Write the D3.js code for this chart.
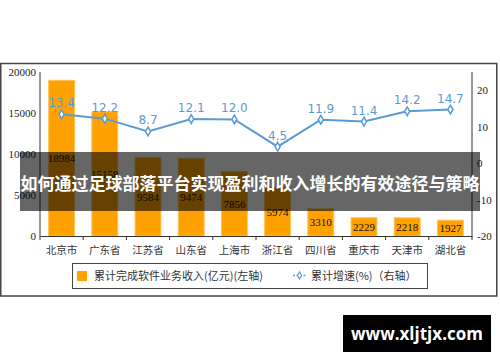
<!DOCTYPE html>
<html>
<head>
<meta charset="utf-8">
<script src="https://cdn.jsdelivr.net/npm/d3@7"></script>
<style>
  body { margin: 0; background: #fff; }
  svg { display: block; }
</style>
</head>
<body>
<svg id="chart" width="500" height="362"></svg>
<script>
var regions = ["北京市", "广东省", "江苏省", "山东省", "上海市", "浙江省", "四川省", "重庆市", "天津市", "湖北省"];
var income = [18984, 15158, 9584, 9474, 7856, 5974, 3310, 2229, 2218, 1927];
var growth = [13.4, 12.2, 8.7, 12.1, 12.0, 4.5, 11.9, 11.4, 14.2, 14.7];
var leftTicks = [0, 5000, 10000, 15000, 20000];
var rightTicks = [-20, -10, 0, 10, 20];

var svg = d3.select("#chart");
var serif = "'Liberation Serif', 'Noto Sans CJK SC', serif",
    cjk = "'Noto Sans CJK SC', sans-serif";

// outer frame
svg.append("rect")
    .attr("x", 0.75).attr("y", 63.5)
    .attr("width", 496).attr("height", 232.5)
    .attr("fill", "#fff").attr("stroke", "#444").attr("stroke-width", 1.5);

var x = d3.scaleBand().domain(regions).range([40, 472]).paddingInner(0.4).paddingOuter(0.2),
    xb = d3.scaleBand().domain(regions).range([40, 472]),
    y = d3.scaleLinear().domain([0, 20000]).range([236, 72]),
    y2 = d3.scaleLinear().domain([-20, 25]).range([236, 72]);

// axes
svg.append("line").attr("x1", 40).attr("x2", 40).attr("y1", 72).attr("y2", 236)
    .attr("stroke", "#333");
svg.append("line").attr("x1", 472).attr("x2", 472).attr("y1", 72).attr("y2", 236)
    .attr("stroke", "#333");

svg.selectAll(".lt").data(leftTicks).enter().append("text")
    .attr("x", 36).attr("y", function(d) { return y(d) + 4; })
    .attr("text-anchor", "end")
    .style("font", "11px " + serif).attr("fill", "#222")
    .text(function(d) { return d; });

svg.selectAll(".rt").data(rightTicks).enter().append("text")
    .attr("x", 477).attr("y", function(d) { return y2(d) + 4; })
    .style("font", "11px " + serif).attr("fill", "#222")
    .text(function(d) { return d; });

// bars
svg.selectAll(".bar").data(income).enter().append("rect")
    .attr("x", function(d, i) { return x(regions[i]); })
    .attr("y", function(d) { return y(d); })
    .attr("width", x.bandwidth())
    .attr("height", function(d) { return y(0) - y(d); })
    .attr("fill", "#ffa200")
    .attr("stroke", "#ffc458").attr("stroke-width", 1);

svg.selectAll(".blab").data(income).enter().append("text")
    .attr("x", function(d, i) { return x(regions[i]) + x.bandwidth() / 2; })
    .attr("y", function(d) { return (y(d) + y(0)) / 2 + 4; })
    .attr("text-anchor", "middle")
    .style("font", "11px " + serif).attr("fill", "#111")
    .text(function(d) { return d; });

// x axis
var xAxis = svg.append("g").attr("transform", "translate(0,236)")
    .call(d3.axisBottom(xb).tickSize(0).tickFormat(""));
xAxis.select(".domain").attr("stroke", "#333");
svg.selectAll(".xt").data(d3.range(regions.length + 1)).enter().append("line")
    .attr("x1", function(i) { return 40 + i * xb.step(); })
    .attr("x2", function(i) { return 40 + i * xb.step(); })
    .attr("y1", 236).attr("y2", 240).attr("stroke", "#333");

svg.selectAll(".xl").data(regions).enter().append("text")
    .attr("x", function(d) { return xb(d) + xb.bandwidth() / 2; })
    .attr("y", 254)
    .attr("text-anchor", "middle")
    .style("font", "10.5px " + cjk).attr("fill", "#333")
    .text(function(d) { return d; });

// growth line
var line = d3.line()
    .x(function(d, i) { return xb(regions[i]) + xb.bandwidth() / 2; })
    .y(function(d) { return y2(d); });

svg.append("path").datum(growth)
    .attr("d", line)
    .attr("fill", "none").attr("stroke", "#5b9bd5").attr("stroke-width", 2);

svg.selectAll(".pt").data(growth).enter().append("path")
    .attr("d", d3.symbol(d3.symbolDiamond, 22))
    .attr("transform", function(d, i) {
        return "translate(" + (xb(regions[i]) + xb.bandwidth() / 2) + "," + y2(d) + ")";
    })
    .attr("fill", "#fff").attr("stroke", "#5b9bd5").attr("stroke-width", 1.5);

svg.selectAll(".glab").data(growth).enter().append("text")
    .attr("x", function(d, i) { return xb(regions[i]) + xb.bandwidth() / 2; })
    .attr("y", function(d) { return y2(d) - 7; })
    .attr("text-anchor", "middle")
    .style("font", "12px 'DejaVu Sans', sans-serif").attr("fill", "#5b9bd5")
    .text(function(d) { return d.toFixed(1); });

// legend
var lg = svg.append("g");
lg.append("rect").attr("x", 72.5).attr("y", 263.5).attr("width", 355).attr("height", 25)
    .attr("fill", "#fff").attr("stroke", "#444").attr("stroke-width", 1);
lg.append("rect").attr("x", 77).attr("y", 271).attr("width", 10).attr("height", 10)
    .attr("fill", "#ffa200");
lg.append("text").attr("x", 94).attr("y", 280)
    .style("font", "11px " + cjk).attr("fill", "#333")
    .text("累计完成软件业务收入(亿元)(左轴)");
lg.append("line").attr("x1", 293).attr("x2", 306).attr("y1", 275.5).attr("y2", 275.5)
    .attr("stroke", "#5b9bd5").attr("stroke-width", 1.5).attr("stroke-dasharray", "2,1.5");
lg.append("path").attr("d", d3.symbol(d3.symbolDiamond, 14))
    .attr("transform", "translate(299.5,275.5)")
    .attr("fill", "#fff").attr("stroke", "#5b9bd5").attr("stroke-width", 1.2);
lg.append("text").attr("x", 311).attr("y", 280)
    .style("font", "11px " + cjk).attr("fill", "#333")
    .text("累计增速(%)（右轴）");

// title overlay
svg.append("rect").attr("x", 20).attr("y", 152).attr("width", 460).attr("height", 59)
    .attr("fill", "rgba(0,0,0,0.6)");
svg.append("text").attr("x", 250).attr("y", 190)
    .attr("text-anchor", "middle")
    .style("font", "bold 17px " + cjk).attr("fill", "#fff")
    .text("如何通过足球部落平台实现盈利和收入增长的有效途径与策略");

// watermark
svg.append("rect").attr("x", 343).attr("y", 315).attr("width", 148).attr("height", 37)
    .attr("fill", "#000");
svg.append("text").attr("x", 417).attr("y", 340)
    .attr("text-anchor", "middle")
    .style("font", "bold 17px 'Open Sans', 'DejaVu Sans', sans-serif").attr("fill", "#fff")
    .text("www.xljtjx.com");
</script>
</body>
</html>
